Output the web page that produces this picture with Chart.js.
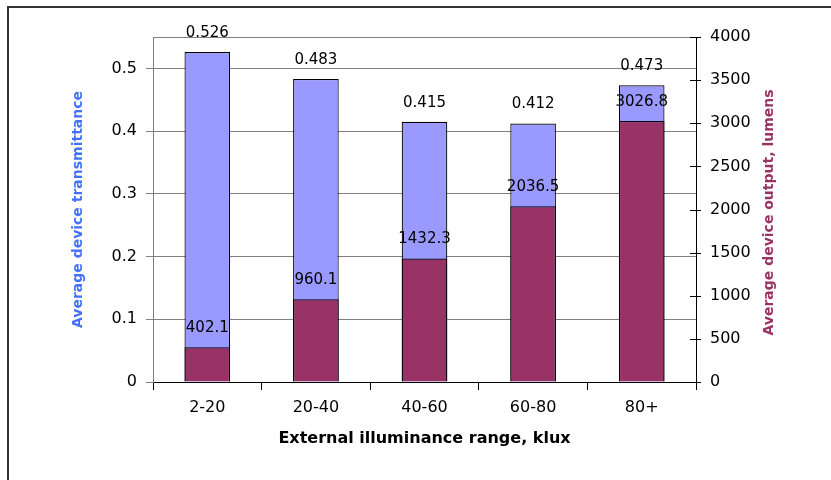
<!DOCTYPE html>
<html><head><meta charset="utf-8">
<script src="https://cdn.jsdelivr.net/npm/chart.js@4"></script>
<style>
html,body{margin:0;padding:0;background:#fff;overflow:hidden}
#wrap{position:relative;width:831px;height:480px}
#frame{position:absolute;left:7px;top:6px;width:900px;height:600px;border-left:2px solid #333;border-top:2px solid #333;pointer-events:none}
</style></head><body>
<div id="wrap"><canvas id="c" width="831" height="480"></canvas><div id="frame"></div></div>
<script>
const categories = ['2-20', '20-40', '40-60', '60-80', '80+'];
const transmittance = [0.526, 0.483, 0.415, 0.412, 0.473];
const output = [402.1, 960.1, 1432.3, 2036.5, 3026.8];
const leftTicks = [0, 0.1, 0.2, 0.3, 0.4, 0.5];
const leftMax = 0.55;
const rightTicks = [0, 500, 1000, 1500, 2000, 2500, 3000, 3500, 4000];

const FAM = 'DejaVu Sans';

const labelPlugin = {
  id: 'labels',
  afterDatasetsDraw(chart) {
    const ctx = chart.ctx;
    ctx.save();
    ctx.font = '15px "' + FAM + '"';
    ctx.fillStyle = '#000';
    ctx.textAlign = 'center';
    ctx.textBaseline = 'middle';
    chart.data.datasets.forEach((ds, di) => {
      const meta = chart.getDatasetMeta(di);
      meta.data.forEach((el, i) => {
        ctx.fillText(String(ds.data[i]), el.x, el.y - 19);
      });
    });
    ctx.restore();
  }
};

const rightAxisPlugin = {
  id: 'rightAxis',
  afterDraw(chart) {
    const ctx = chart.ctx;
    const s = chart.scales.y2;
    ctx.save();
    ctx.strokeStyle = '#000';
    ctx.lineWidth = 1;
    s.ticks.forEach(t => {
      const y = Math.round(s.getPixelForValue(t.value)) + 0.5;
      ctx.beginPath();
      ctx.moveTo(s.left - 6, y);
      ctx.lineTo(s.left + 5, y);
      ctx.stroke();
    });
    const ca = chart.chartArea;
    ctx.translate(769, (ca.top + ca.bottom) / 2 + 3);
    ctx.rotate(-Math.PI / 2);
    ctx.font = 'bold 14px "' + FAM + '"';
    ctx.fillStyle = '#993366';
    ctx.textAlign = 'center';
    ctx.textBaseline = 'middle';
    ctx.fillText('Average device output, lumens', 0, 0);
    ctx.restore();
  }
};

new Chart(document.getElementById('c'), {
  type: 'bar',
  data: {
    labels: categories,
    datasets: [
      {
        label: 'Average device transmittance',
        data: transmittance,
        yAxisID: 'y',
        backgroundColor: '#9999FF',
        borderColor: '#000',
        borderWidth: 1.2,
        grouped: false,
        order: 2,
        barPercentage: 0.42,
        categoryPercentage: 1
      },
      {
        label: 'Average device output, lumens',
        data: output,
        yAxisID: 'y2',
        backgroundColor: '#993366',
        borderColor: '#000',
        borderWidth: 1.2,
        grouped: false,
        order: 1,
        barPercentage: 0.42,
        categoryPercentage: 1
      }
    ]
  },
  options: {
    responsive: false,
    animation: false,
    events: [],
    layout: { padding: { left: 0, right: 0, top: 37, bottom: 0 } },
    plugins: { legend: { display: false }, tooltip: { enabled: false } },
    scales: {
      x: {
        offset: true,
        grid: { offset: true, drawOnChartArea: false, tickLength: 8, tickColor: '#000' },
        border: { color: '#000', width: 1 },
        ticks: { font: { family: FAM, size: 16 }, color: '#000', padding: 8, maxRotation: 0 },
        afterFit: s => { s.height = 98; },
        title: {
          display: true,
          text: 'External illuminance range, klux',
          color: '#000',
          font: { family: FAM, size: 16, weight: 'bold' },
          padding: { top: 0, bottom: 32 }
        }
      },
      y: {
        position: 'left',
        min: 0,
        max: leftMax,
        afterBuildTicks: s => { s.ticks = leftTicks.concat([leftMax]).map(v => ({ value: v })); },
        afterFit: s => { s.width = 153; },
        ticks: {
          font: { family: FAM, size: 16 },
          color: '#000',
          padding: 9,
          callback: v => (v === leftMax ? '' : String(v))
        },
        grid: {
          color: '#808080',
          tickLength: 7,
          tickColor: c => (c.tick && c.tick.value === leftMax ? 'rgba(0,0,0,0)' : '#808080')
        },
        border: { color: '#808080', width: 1 },
        title: {
          display: true,
          text: 'Average device transmittance',
          color: '#4470FF',
          font: { family: FAM, size: 14, weight: 'bold' },
          padding: { top: 70, bottom: 0 }
        }
      },
      y2: {
        position: 'right',
        min: 0,
        max: 4000,
        afterBuildTicks: s => { s.ticks = rightTicks.map(v => ({ value: v })); },
        afterFit: s => { s.width = 135; },
        ticks: { font: { family: FAM, size: 16 }, color: '#000', padding: 14, callback: v => String(v) },
        grid: { drawOnChartArea: false, drawTicks: false },
        border: { color: '#000', width: 1 }
      }
    }
  },
  plugins: [labelPlugin, rightAxisPlugin]
});
</script>
</body></html>
